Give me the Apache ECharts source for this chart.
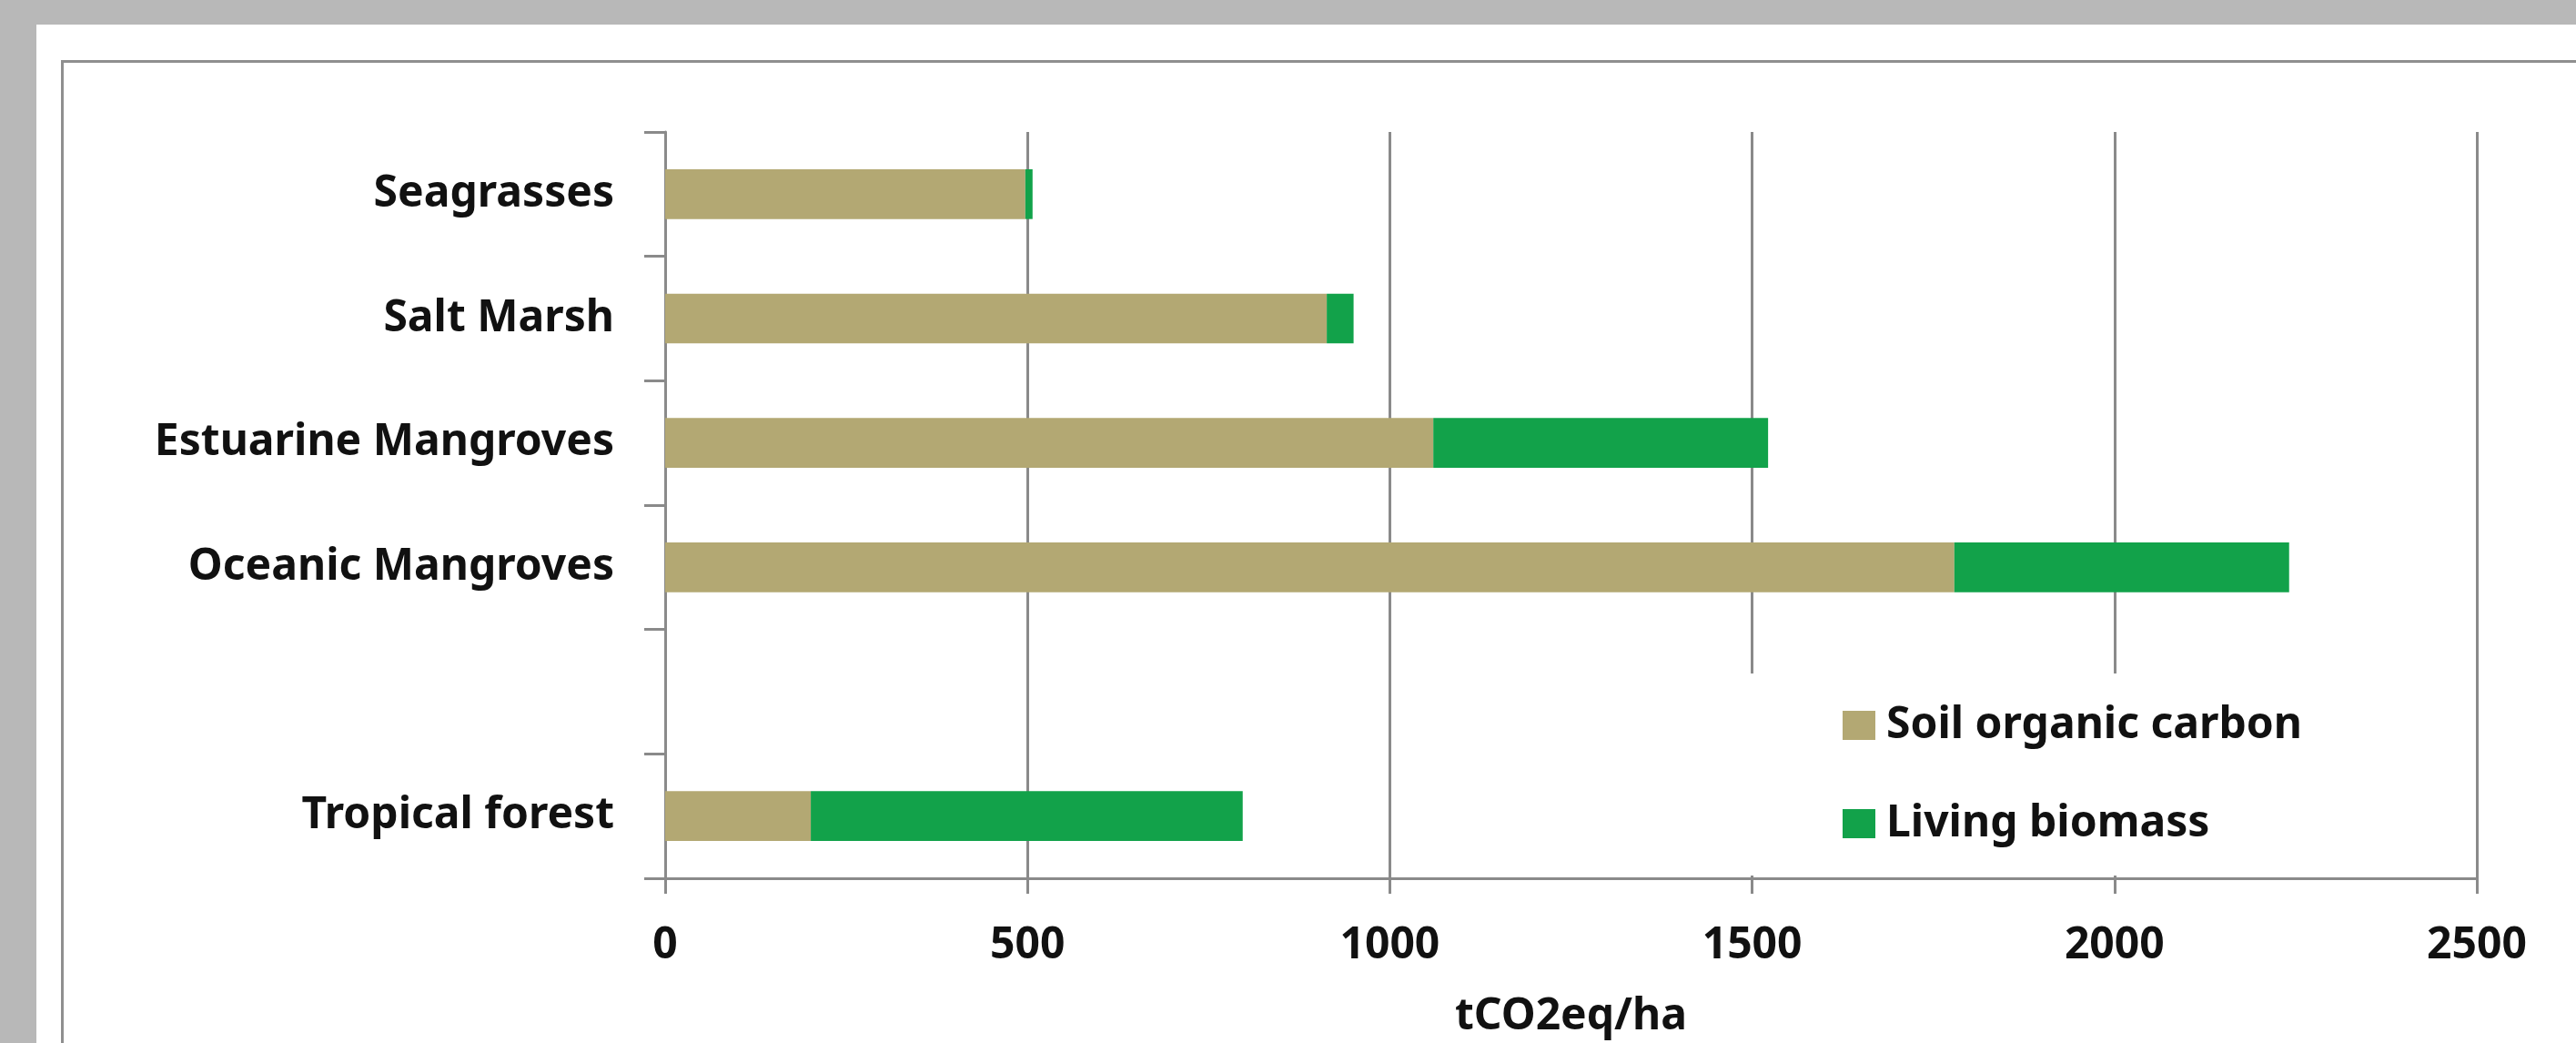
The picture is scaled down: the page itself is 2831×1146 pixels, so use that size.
<!DOCTYPE html>
<html>
<head>
<meta charset="utf-8">
<title>Carbon stocks</title>
<script src="https://cdn.jsdelivr.net/npm/echarts@6/dist/echarts.min.js"></script>
<style>
html, body {
	margin: 0;
	padding: 0;
	width: 2831px;
	height: 1146px;
	overflow: hidden;
	background: #b8b8b8;
}
.panel {
	position: absolute;
	left: 40px;
	top: 27px;
	right: 0;
	bottom: 0;
	background: #fff;
}
.frame {
	position: absolute;
	left: 67px;
	top: 66px;
	right: -10px;
	bottom: -10px;
	border-left: 3px solid #8f8f8f;
	border-top: 3px solid #8f8f8f;
}
#main {
	position: absolute;
	left: 0;
	top: 0;
	width: 2831px;
	height: 1146px;
}
</style>
</head>
<body>
<div class="panel"></div>
<div class="frame"></div>
<div id="main"></div>
<script>
// categories from bottom to top, the blank one is the gap row
var categories = ['Tropical forest', '', 'Oceanic Mangroves', 'Estuarine Mangroves', 'Salt Marsh', 'Seagrasses'];
var soilCarbon = [201, null, 1779, 1060, 913, 497];
var livingBiomass = [596, null, 462, 462, 37, 10];
var seriesNames = ['Soil organic carbon', 'Living biomass'];
var xMin = 0;
var xMax = 2500;
var xStep = 500;

var font = 'Noto Sans';
var axisGray = '#8a8a8a';

var chartDom = document.getElementById('main');
var myChart = echarts.init(chartDom, null, { renderer: 'canvas' });
var option;

option = {
	backgroundColor: 'transparent',
	animation: false,
	grid: {
		left: 731,
		right: 109,
		top: 145,
		bottom: 178,
		containLabel: false
	},
	legend: {
		data: seriesNames,
		orient: 'vertical',
		left: 1900,
		top: 740,
		backgroundColor: '#fff',
		padding: [29, 150, 29, 125],
		icon: 'rect',
		itemWidth: 36,
		itemHeight: 32,
		itemGap: 52,
		textStyle: {
			fontFamily: font,
			fontWeight: 'bold',
			fontSize: 48,
			lineHeight: 56,
			color: '#111',
			padding: [0, 0, 0, 7]
		}
	},
	xAxis: {
		type: 'value',
		min: xMin,
		max: xMax,
		interval: xStep,
		name: 'tCO2eq/ha',
		nameLocation: 'middle',
		nameGap: 128,
		nameTextStyle: {
			fontFamily: font,
			fontWeight: 'bold',
			fontSize: 48,
			color: '#111'
		},
		axisLine: {
			show: true,
			lineStyle: { color: axisGray, width: 3 }
		},
		axisTick: {
			show: true,
			length: 17,
			lineStyle: { color: axisGray, width: 3 }
		},
		splitLine: {
			show: true,
			lineStyle: { color: axisGray, width: 3 }
		},
		axisLabel: {
			margin: 50,
			fontFamily: font,
			fontWeight: 'bold',
			fontSize: 48,
			color: '#111',
			formatter: function (v) {
				return String(v);
			}
		}
	},
	yAxis: {
		type: 'category',
		data: categories,
		axisLine: {
			show: true,
			lineStyle: { color: axisGray, width: 3 }
		},
		axisTick: {
			show: true,
			length: 23,
			lineStyle: { color: axisGray, width: 3 }
		},
		splitLine: { show: false },
		axisLabel: {
			margin: 56,
			fontFamily: font,
			fontWeight: 'bold',
			fontSize: 48,
			color: '#111'
		}
	},
	series: [
		{
			name: seriesNames[0],
			type: 'bar',
			stack: 'total',
			barWidth: '40%',
			itemStyle: { color: '#b3a873' },
			data: soilCarbon
		},
		{
			name: seriesNames[1],
			type: 'bar',
			stack: 'total',
			barWidth: '40%',
			itemStyle: { color: '#12a24a' },
			data: livingBiomass
		}
	]
};

option && myChart.setOption(option);
</script>
</body>
</html>
